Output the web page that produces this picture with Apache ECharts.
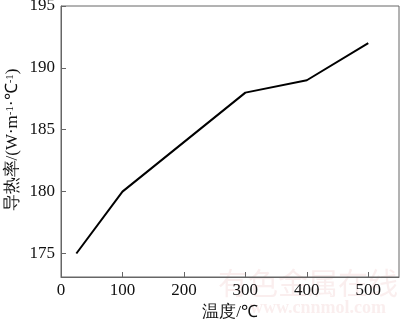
<!DOCTYPE html>
<html>
<head>
<meta charset="utf-8">
<title>导热率</title>
<script src="https://cdn.jsdelivr.net/npm/echarts@6/dist/echarts.min.js"></script>
<style>
  html, body { margin: 0; padding: 0; background: #fff; }
  #main { width: 400px; height: 321px; }
</style>
</head>
<body>
<div id="main"></div>
<script>
var temps = [25, 100, 300, 400, 500];
var conductivity = [175, 180, 188, 189, 192];
var xTicks = [0, 100, 200, 300, 400, 500];
var yTicks = [175, 180, 185, 190, 195];

var chart = echarts.init(document.getElementById('main'));
var font = 'Liberation Serif, Times New Roman, serif';
var axisColor = '#666';

chart.setOption({
    animation: false,
    textStyle: { fontFamily: font },
    grid: { left: 61, right: 1, top: 6, bottom: 44, outerBoundsMode: 'none', containLabel: false,
            show: true, borderColor: axisColor, borderWidth: 1 },
    xAxis: {
        type: 'value',
        min: 0,
        max: 550,
        name: '温度/℃',
        nameLocation: 'middle',
        nameGap: 26,
        nameTextStyle: { fontFamily: font, fontSize: 17, color: '#111' },
        axisLine: { lineStyle: { color: axisColor } },
        axisTick: { inside: true, length: 5, customValues: xTicks, lineStyle: { color: axisColor } },
        axisLabel: { customValues: xTicks, fontFamily: font, fontSize: 17, color: '#111', margin: 5 },
        splitLine: { show: false }
    },
    yAxis: {
        type: 'value',
        min: 173.1,
        max: 195,
        axisLine: { lineStyle: { color: axisColor } },
        axisTick: { inside: true, length: 5, customValues: yTicks, lineStyle: { color: axisColor } },
        axisLabel: { customValues: yTicks, fontFamily: font, fontSize: 17, color: '#111', margin: 6 },
        splitLine: { show: false }
    },
    graphic: [
        {
            type: 'text', x: 13, y: 140, rotation: Math.PI / 2,
            style: {
                text: '{n|导热率/(W·m}{s|-1}{n|·℃}{s|-1}{n|)}',
                align: 'center', verticalAlign: 'middle',
                rich: {
                    n: { fontFamily: font, fontSize: 17, fill: '#111' },
                    s: { fontFamily: font, fontSize: 11, fill: '#111', verticalAlign: 'top' }
                }
            }
        },
        { type: 'text', left: 218, top: 268, z: -1, style: { text: '有色金属在线', fontSize: 30, fontFamily: 'Noto Sans CJK SC', fill: 'rgba(230,170,170,0.2)' } },
        { type: 'text', left: 250, top: 299, z: -1, style: { text: 'www.cnnmol.com', fontSize: 18, fontWeight: 'bold', fontFamily: font, fill: 'rgba(230,170,170,0.2)' } }
    ],
    series: [{
        type: 'line',
        data: temps.map(function (t, i) { return [t, conductivity[i]]; }),
        symbol: 'none',
        lineStyle: { color: '#000', width: 2 }
    }]
});
</script>
</body>
</html>
